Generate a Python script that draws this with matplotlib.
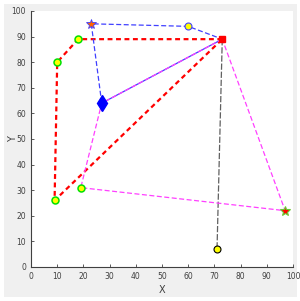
import matplotlib.pyplot as plt

# ----------------- Data -----------------
hub = (73, 89)
red_path_x = [73, 18, 10, 9, 73]
red_path_y = [89, 89, 80, 26, 89]
blue_path_x = [27, 23, 60, 73]
blue_path_y = [64, 95, 94, 89]
solid_x = [27, 73]
solid_y = [64, 89]
mag_path_x = [73, 27, 19, 97, 73]
mag_path_y = [89, 64, 31, 22, 89]
gray_x = [73, 71]
gray_y = [89, 7]

green_pts_x = [10, 18, 9, 19]
green_pts_y = [80, 89, 26, 31]


def main():
    fig = plt.figure(figsize=(3.0, 3.01), dpi=100)
    fig.patch.set_facecolor('white')
    # gray frame like a MATLAB figure window
    fig.patches.append(plt.Rectangle((4 / 300, 4 / 301), 293 / 300, 293 / 301,
                                     transform=fig.transFigure,
                                     facecolor='#f0f0f0', edgecolor='none', zorder=-10))
    ax = fig.add_axes([31 / 300, 1 - 267 / 301, 262 / 300, 256 / 301])
    ax.set_facecolor('white')

    ax.plot(red_path_x, red_path_y, color='red', lw=1.6, dashes=(2.2, 1.6), zorder=2)
    ax.plot(blue_path_x, blue_path_y, color='#4040ff', lw=0.9, dashes=(4, 2), zorder=2)
    ax.plot(solid_x, solid_y, color='#4040ff', lw=0.9, zorder=2)
    ax.plot(mag_path_x, mag_path_y, color='#ff40ff', lw=0.9, dashes=(4, 2), zorder=3)
    ax.plot(gray_x, gray_y, color='#606060', lw=0.9, dashes=(5, 1.5), zorder=2)

    ax.plot(green_pts_x, green_pts_y, 'o', ms=5, mfc='yellow', mec='#00e000', mew=1.1, zorder=5)
    ax.plot(60, 94, 'o', ms=5, mfc='yellow', mec='#4040ff', mew=0.8, zorder=5)
    ax.plot(71, 7, 'o', ms=5, mfc='yellow', mec='black', mew=0.8, zorder=5)
    ax.plot(23, 95, '*', ms=7, mfc='#ff6600', mec='#4040ff', mew=0.6, zorder=5)
    ax.plot(97, 22, '*', ms=7, mfc='red', mec='#66cc33', mew=0.8, zorder=5)
    ax.plot(27, 64, 'd', ms=8, mfc='blue', mec='blue', zorder=5)
    ax.plot(*hub, 's', ms=5, mfc='red', mec='red', zorder=6)

    ax.set_xlim(0, 100)
    ax.set_ylim(0, 100)
    ax.set_xticks(range(0, 101, 10))
    ax.set_yticks(range(0, 101, 10))
    ax.tick_params(labelsize=5.5, colors='#404040', length=2, width=0.6, direction='in')
    for side in ['top', 'right']:
        ax.spines[side].set_visible(False)
    for side in ['left', 'bottom']:
        ax.spines[side].set_color('#404040')
        ax.spines[side].set_linewidth(0.8)
    ax.set_xlabel('X', fontsize=7, color='#404040')
    ax.set_ylabel('Y', fontsize=7, color='#404040')
    ax.xaxis.set_label_coords(0.5, -0.07)
    ax.yaxis.set_label_coords(-0.05, 0.5)

    plt.savefig('out.png', dpi=100)


if __name__ == '__main__':
    main()
